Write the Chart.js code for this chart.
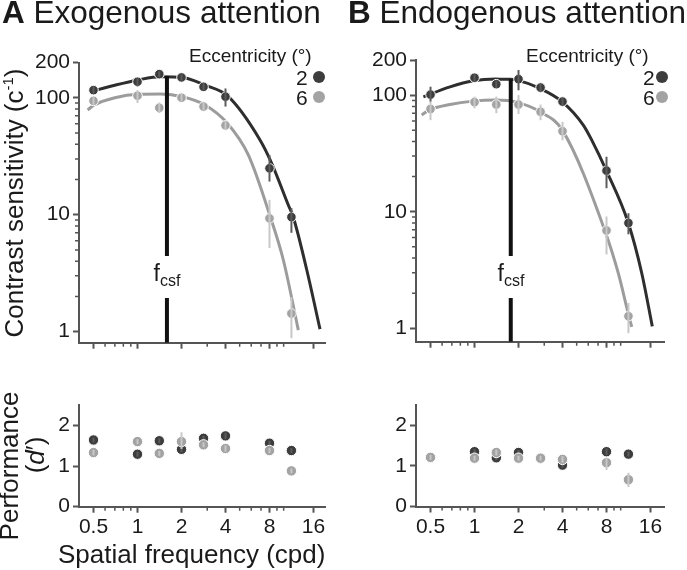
<!DOCTYPE html>
<html>
<head>
<meta charset="utf-8">
<script src="https://cdn.jsdelivr.net/npm/chart.js@4.4.1/dist/chart.umd.min.js"></script>
<style>
  body { margin: 0; background: #fff; width: 687px; height: 570px; overflow: hidden; position: relative;
         font-family: "Liberation Sans", Arial, sans-serif; color: #1a1a1a; }
  canvas { position: absolute; left: 0; top: 0; }
  .t { position: absolute; white-space: nowrap; }
  .rot { position: absolute; white-space: nowrap; transform: translate(-50%, -50%) rotate(-90deg); }
  .dot { position: absolute; width: 12px; height: 12px; border-radius: 50%; }
  .fcsf { position: absolute; transform: translate(-50%, -50%); background: #fff; font-size: 23px; line-height: 26px; padding: 4px 0; }
  .fcsf sub { font-size: 16px; vertical-align: -5px; }
</style>
</head>
<body>
<canvas id="exoCs" width="687" height="570"></canvas>
<canvas id="endoCs" width="687" height="570"></canvas>
<canvas id="exoPerf" width="687" height="570"></canvas>
<canvas id="endoPerf" width="687" height="570"></canvas>

<div class="t" style="left:2px;top:-3px;font-size:31.5px;line-height:31px"><b>A</b> Exogenous attention</div>
<div class="t" style="left:348px;top:-3px;font-size:31.5px;line-height:31px"><b>B</b> Endogenous attention</div>

<div class="t" style="left:189px;top:46px;font-size:19px;line-height:19px">Eccentricity (°)</div>
<div class="t" style="left:296px;top:67px;font-size:21px;line-height:21px">2</div>
<div class="t" style="left:296px;top:87px;font-size:21px;line-height:21px">6</div>
<div class="dot" style="left:313px;top:71px;background:#3d3d3d"></div>
<div class="dot" style="left:313px;top:91px;background:#a3a3a3"></div>

<div class="t" style="left:526px;top:46px;font-size:19px;line-height:19px">Eccentricity (°)</div>
<div class="t" style="left:643px;top:67px;font-size:21px;line-height:21px">2</div>
<div class="t" style="left:643px;top:87px;font-size:21px;line-height:21px">6</div>
<div class="dot" style="left:656px;top:71px;background:#3d3d3d"></div>
<div class="dot" style="left:656px;top:91px;background:#a3a3a3"></div>

<div class="rot" style="left:11px;top:203px;font-size:26px;line-height:26px">Contrast sensitivity (c<sup style="font-size:15px">-1</sup>)</div>
<div class="rot" style="left:9px;top:466px;font-size:26px;line-height:26px">Performance</div>
<div class="rot" style="left:35px;top:455px;font-size:26px;line-height:26px">(<i>d</i>′)</div>
<div class="t" style="left:58px;top:541px;font-size:26px;line-height:26px">Spatial frequency (cpd)</div>

<div class="fcsf" style="left:167px;top:277px">f<sub>csf</sub></div>
<div class="fcsf" style="left:511px;top:277px">f<sub>csf</sub></div>

<script>
// spatial frequencies tested (cpd)
const freqs = [0.5, 1, 1.41, 2, 2.83, 4, 8, 11.3];

// axis ticks
const freqTicks = [0.5, 1, 2, 4, 8, 16];
const freqMinor = [0.6, 0.7, 0.8, 0.9, 3, 5, 6, 7, 9, 10];
const csTicks = [1, 10, 100, 200];
const csMinor = [2, 3, 4, 5, 6, 7, 8, 9, 20, 30, 40, 50, 60, 70, 80, 90];
const dTicks = [0, 1, 2];

// A exogenous - contrast sensitivity, 2 deg and 6 deg
const exoCs2   = [116, 137, 159, 149, 124, 102, 24.9, 9.55];
const exoCs2Lo = [108, 125, 150, 140, 116, 84, 19.2, 7.0];
const exoCs2Hi = [125, 147, 168, 158, 133, 120, 32.4, 11.4];
const exoCs6   = [94, 104, 82, 100, 84, 58, 9.3, 1.43];
const exoCs6Lo = [87, 90, 74, 93, 78, 53, 5.2, 0.88];
const exoCs6Hi = [101, 116, 91, 108, 91, 63, 13.4, 1.98];

// A fitted curves
const exoFit2F = [0.47, 0.70, 1.01, 1.44, 2.03, 2.90, 4.12, 6.89, 8.28, 10.76, 11.64, 14.37, 17.73];
const exoFit2  = [112, 128, 142, 151, 149, 128, 104, 43.5, 27.5, 12.1, 9.5, 3.4, 1.05];
const exoFit6F = [0.456, 0.504, 0.70, 1.01, 1.44, 2.03, 2.90, 4.12, 5.73, 8.15, 9.95, 12.6];
const exoFit6  = [78.5, 86.6, 100, 107, 107.6, 102, 86.6, 60.4, 32.4, 9.37, 4.1, 1.03];
const exoPeak = 1.59, exoPeakCs = 153;

// B endogenous - contrast sensitivity
const endoCs2   = [101, 141, 124, 137, 116, 88, 22.5, 8.0];
const endoCs2Lo = [88, 131, 115, 110, 107, 81, 15.9, 6.4];
const endoCs2Hi = [118, 151, 133, 164, 126, 95, 29.6, 9.7];
const endoCs6   = [76, 87, 83, 83, 72, 49, 6.9, 1.27];
const endoCs6Lo = [61, 77, 70, 69, 61, 41, 4.3, 0.91];
const endoCs6Hi = [88, 97, 97, 100, 83, 59, 9.1, 1.65];

// B fitted curves
const endoFit2F = [0.447, 0.68, 0.98, 1.40, 1.75, 1.96, 2.81, 3.99, 5.55, 6.34, 7.94, 11.28, 13.93, 16.46];
const endoFit2  = [96.7, 117.8, 132.6, 137.1, 137, 134.5, 114, 87.6, 55.3, 41.1, 22.8, 8.0, 2.98, 1.04];
const endoFit6F = [0.435, 0.488, 0.68, 0.98, 1.40, 1.96, 2.81, 3.99, 7.81, 9.63, 11.4, 11.9];
const endoFit6  = [67.4, 74.4, 83.2, 88.8, 90.6, 86.6, 71.9, 50.1, 6.84, 2.97, 1.26, 1.03];
const endoPeak = 1.77, endoPeakCs = 137;

// performance (d')
const exoD2   = [1.64, 1.29, 1.62, 1.41, 1.68, 1.74, 1.56, 1.38];
const exoD2Lo = [1.58, 1.23, 1.56, 1.34, 1.62, 1.66, 1.50, 1.32];
const exoD2Hi = [1.70, 1.35, 1.68, 1.48, 1.74, 1.82, 1.62, 1.44];
const exoD6   = [1.33, 1.60, 1.31, 1.60, 1.52, 1.43, 1.38, 0.88];
const exoD6Lo = [1.26, 1.54, 1.25, 1.42, 1.46, 1.35, 1.32, 0.82];
const exoD6Hi = [1.40, 1.66, 1.37, 1.83, 1.58, 1.51, 1.44, 0.94];
const endoD2   = [1.21, 1.35, 1.20, 1.33, 1.19, 1.02, 1.35, 1.29];
const endoD2Lo = [1.15, 1.29, 1.14, 1.27, 1.13, 0.96, 1.27, 1.23];
const endoD2Hi = [1.27, 1.41, 1.26, 1.39, 1.25, 1.08, 1.43, 1.35];
const endoD6   = [1.21, 1.19, 1.33, 1.19, 1.19, 1.16, 1.08, 0.66];
const endoD6Lo = [1.15, 1.13, 1.26, 1.13, 1.13, 1.08, 0.90, 0.48];
const endoD6Hi = [1.27, 1.25, 1.40, 1.25, 1.25, 1.24, 1.20, 0.83];

const DARK = '#3d3d3d', LIGHT = '#a3a3a3';
const AXIS = '#555';
const FONT = '"Liberation Sans", Arial, sans-serif';

// vertical error bars, drawn right after their own dataset
const errorBars = {
  id: 'errorBars',
  afterDatasetDraw(chart, args) {
    const ds = chart.data.datasets[args.index];
    if (!ds.errLo) return;
    const ctx = chart.ctx, x = chart.scales.x, y = chart.scales.y;
    ctx.save();
    ctx.strokeStyle = ds.errColor;
    ctx.lineWidth = 2;
    ds.data.forEach((p, i) => {
      const px = x.getPixelForValue(p.x);
      ctx.beginPath();
      ctx.moveTo(px, y.getPixelForValue(ds.errLo[i]));
      ctx.lineTo(px, y.getPixelForValue(ds.errHi[i]));
      ctx.stroke();
    });
    ctx.restore();
  }
};

// short unlabeled ticks
const minorTicks = {
  id: 'minorTicks',
  afterDraw(chart, args, opts) {
    const ctx = chart.ctx, a = chart.chartArea;
    ctx.save();
    ctx.strokeStyle = AXIS;
    ctx.lineWidth = 1.5;
    ctx.beginPath();
    (opts.x || []).forEach(v => {
      const px = chart.scales.x.getPixelForValue(v);
      ctx.moveTo(px, a.bottom); ctx.lineTo(px, a.bottom + 4);
    });
    (opts.y || []).forEach(v => {
      const py = chart.scales.y.getPixelForValue(v);
      ctx.moveTo(a.left, py); ctx.lineTo(a.left - 4, py);
    });
    ctx.stroke();
    ctx.restore();
  }
};

function points(vals, lo, hi, color, barColor, order, r) {
  return {
    data: freqs.map((f, i) => ({ x: f, y: vals[i] })),
    errLo: lo, errHi: hi, errColor: barColor,
    showLine: false, pointRadius: r, pointBackgroundColor: color,
    pointBorderColor: '#fff', pointBorderWidth: 1, order: order, clip: false
  };
}

function curve(fx, fy, color, order) {
  return {
    data: fx.map((f, i) => ({ x: f, y: fy[i] })),
    showLine: true, pointRadius: 0, borderColor: color, borderWidth: 3,
    cubicInterpolationMode: 'monotone', order: order
  };
}

function axisOpts(extra) {
  return Object.assign({
    grid: { drawOnChartArea: false, drawTicks: true, tickLength: 6, tickWidth: 2, tickColor: AXIS },
    border: { display: true, color: AXIS, width: 2 }
  }, extra);
}

// box = chart area in page pixels
function makeChart(id, box, datasets, x, y, minorY) {
  return new Chart(document.getElementById(id), {
    type: 'scatter',
    data: { datasets: datasets },
    options: {
      responsive: false,
      animation: false,
      events: [],
      layout: { autoPadding: false, padding: { left: box.left - 79, top: box.top, right: 687 - box.right, bottom: 0 } },
      plugins: { legend: { display: false }, tooltip: { enabled: false }, minorTicks: { x: freqMinor, y: minorY } },
      scales: {
        x: axisOpts({
          type: 'logarithmic', min: x.min, max: x.max,
          afterFit: s => { s.height = 570 - box.bottom; },
          afterBuildTicks: s => { s.ticks = freqTicks.map(v => ({ value: v })); },
          ticks: { autoSkip: false, maxRotation: 0, padding: 2, color: '#1a1a1a',
                   font: { family: FONT, size: 21 },
                   callback: v => x.labels ? String(v) : '' }
        }),
        y: axisOpts({
          type: y.type, min: y.min, max: y.max,
          afterFit: s => { s.width = 79; },
          afterBuildTicks: s => { s.ticks = y.ticks.map(v => ({ value: v })); },
          ticks: { autoSkip: false, padding: 3, color: '#1a1a1a',
                   font: { family: FONT, size: 21 },
                   callback: v => String(v) }
        })
      }
    },
    plugins: [errorBars, minorTicks]
  });
}

// A top: contrast sensitivity
makeChart('exoCs', { left: 79, right: 325, top: 62.5, bottom: 342.7 }, [
  points(exoCs2, exoCs2Lo, exoCs2Hi, DARK, '#5c5c5c', 1, 4.8),
  points(exoCs6, exoCs6Lo, exoCs6Hi, LIGHT, '#c8c8c8', 2, 4.8),
  { data: [{ x: exoPeak, y: 0.805 }, { x: exoPeak, y: exoPeakCs }], showLine: true, pointRadius: 0,
    borderColor: '#111', borderWidth: 4, order: 3 },
  curve(exoFit2F, exoFit2, '#2e2e2e', 4),
  curve(exoFit6F, exoFit6, '#9c9c9c', 5)
], { min: 0.3979, max: 19.18, labels: false },
   { type: 'logarithmic', min: 0.805, max: 200, ticks: csTicks }, csMinor);

// B top: contrast sensitivity
makeChart('endoCs', { left: 416, right: 664, top: 60, bottom: 341.7 }, [
  points(endoCs2, endoCs2Lo, endoCs2Hi, DARK, '#5c5c5c', 1, 4.8),
  points(endoCs6, endoCs6Lo, endoCs6Hi, LIGHT, '#c8c8c8', 2, 4.8),
  { data: [{ x: endoPeak, y: 0.768 }, { x: endoPeak, y: endoPeakCs }], showLine: true, pointRadius: 0,
    borderColor: '#111', borderWidth: 4, order: 3 },
  curve(endoFit2F, endoFit2, '#2e2e2e', 4),
  curve(endoFit6F, endoFit6, '#9c9c9c', 5)
], { min: 0.3978, max: 19.79, labels: false },
   { type: 'logarithmic', min: 0.768, max: 200, ticks: csTicks }, csMinor);

// A bottom: performance
makeChart('exoPerf', { left: 79, right: 325, top: 404.95, bottom: 506.7 }, [
  points(exoD6, exoD6Lo, exoD6Hi, LIGHT, '#c8c8c8', 1, 5.2),
  points(exoD2, exoD2Lo, exoD2Hi, DARK, '#5c5c5c', 2, 5.2)
], { min: 0.3979, max: 19.18, labels: true },
   { type: 'linear', min: 0, max: 2.5, ticks: dTicks }, []);

// B bottom: performance
makeChart('endoPerf', { left: 416, right: 664, top: 405, bottom: 506.5 }, [
  points(endoD6, endoD6Lo, endoD6Hi, LIGHT, '#c8c8c8', 1, 5.2),
  points(endoD2, endoD2Lo, endoD2Hi, DARK, '#5c5c5c', 2, 5.2)
], { min: 0.3978, max: 19.79, labels: true },
   { type: 'linear', min: 0, max: 2.5, ticks: dTicks }, []);
</script>
</body>
</html>
